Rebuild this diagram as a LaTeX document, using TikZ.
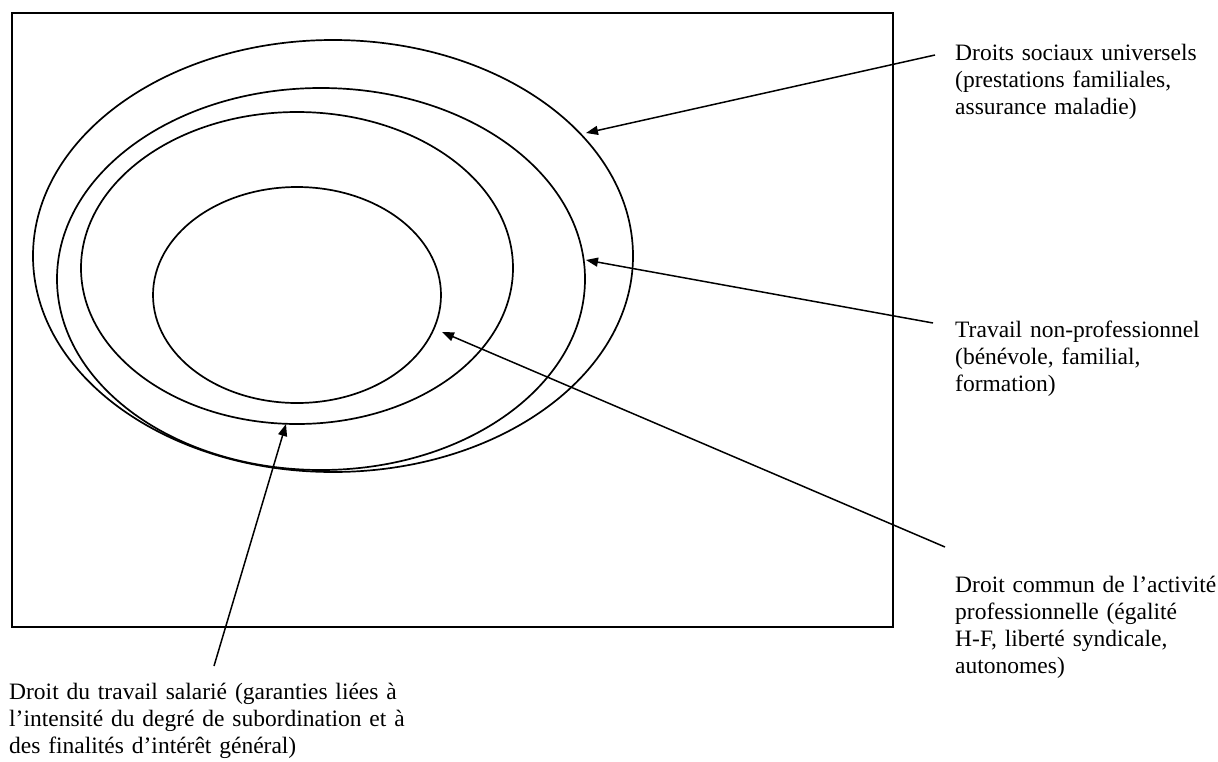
\documentclass[tikz,border=0pt]{standalone}
\usepackage{fontspec}
\setmainfont{Liberation Serif}
\usetikzlibrary{arrows.meta}
\tikzset{
  ring/.style={line width=1.7pt},
  frame/.style={line width=1.8pt},
  arr/.style={line width=1.5pt,-{Triangle[length=12pt,width=9pt]}},
  lbl/.style={anchor=base west,inner sep=0pt,align=left,
    font=\fontsize{23.5}{27}\selectfont}
}
\begin{document}
\begin{tikzpicture}[x=1pt,y=-1pt]
\useasboundingbox (0,0) rectangle (1218,761);
\draw[frame] (12,13) rectangle (893,627);
% ellipses
\draw[ring] (333,256) ellipse [x radius=300, y radius=216];
\draw[ring] (321,279) ellipse [x radius=264, y radius=191];
\draw[ring] (297,268) ellipse [x radius=216, y radius=156];
\draw[ring] (297,295) ellipse [x radius=144, y radius=108];
% labels
\node[lbl,text width=262pt] (l1) at (955,60) {Droits sociaux universels\\(prestations familiales,\\assurance maladie)};
\node[lbl,text width=262pt] (l2) at (955,337) {Travail non-professionnel\\(bénévole, familial,\\formation)};
\node[lbl,text width=263pt] (l3) at (955,592) {Droit commun de l’activité\\professionnelle (égalité\\H-F, liberté syndicale,\\autonomes)};
\node[lbl,text width=400pt] (l4) at (9,699) {Droit du travail salarié (garanties liées à\\l’intensité du degré de subordination et à\\des finalités d’intérêt général)};
% connector ends
\coordinate (t1) at (935,55);
\coordinate (h1) at (586,133);
\coordinate (t2) at (933,323);
\coordinate (h2) at (586,260);
\coordinate (t3) at (945,547);
\coordinate (h3) at (442,332);
\coordinate (t4) at (214,666);
\coordinate (h4) at (286,424);
\draw[arr] (t1) -- (h1);
\draw[arr] (t2) -- (h2);
\draw[arr] (t3) -- (h3);
\draw[arr] (t4) -- (h4);
\end{tikzpicture}
\end{document}
